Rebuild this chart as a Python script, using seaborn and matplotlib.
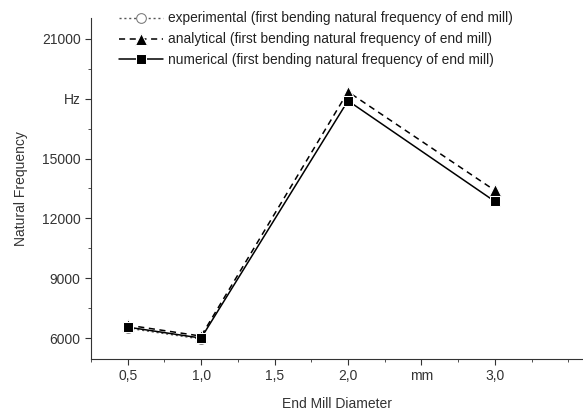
import numpy as np
import pandas as pd
import seaborn as sns
import matplotlib.pyplot as plt
from matplotlib.ticker import MultipleLocator

# values
diam_exp = [0.5, 1.0]
freq_exp = [6500, 5950]
diam = [0.5, 1.0, 2.0, 3.0]
freq_analytical = [6650, 6100, 18350, 13400]
freq_numerical = [6550, 6000, 17900, 12850]

x_ticks = [0.5, 1.0, 1.5, 2.0, 2.5, 3.0]
x_labels = ["0,5", "1,0", "1,5", "2,0", "mm", "3,0"]
y_ticks = [6000, 9000, 12000, 15000, 18000, 21000]
y_labels = ["6000", "9000", "12000", "15000", "Hz", "21000"]

sns.set_style("ticks")
plt.rcParams['font.family'] = ['Liberation Sans Narrow', 'Liberation Sans', 'DejaVu Sans']

fig = plt.figure(figsize=(5.83, 4.17), dpi=100)
ax = fig.add_axes([0.156, 0.139, 0.844, 0.818])

lab = " (first bending natural frequency of end mill)"
sns.lineplot(x=diam_exp, y=freq_exp, ax=ax, color="#555555", linestyle=(0, (1.5, 2)),
             marker="o", markersize=7, markerfacecolor="white", markeredgecolor="#777777",
             linewidth=1, label="experimental" + lab)
sns.lineplot(x=diam, y=freq_analytical, ax=ax, color="black", linestyle=(0, (4, 3)),
             marker="^", markersize=8, linewidth=1.1, label="analytical" + lab)
sns.lineplot(x=diam, y=freq_numerical, ax=ax, color="black", linestyle="-",
             marker="s", markersize=7, linewidth=1.1, label="numerical" + lab)

ax.set_xlim(0.25, 3.6)
ax.set_ylim(4950, 22050)
ax.set_xticks(x_ticks)
ax.set_xticklabels(x_labels)
ax.set_yticks(y_ticks)
ax.set_yticklabels(y_labels)
ax.xaxis.set_minor_locator(MultipleLocator(0.25))
ax.yaxis.set_minor_locator(MultipleLocator(1500))
ax.tick_params(which="both", direction="out", colors="#333333", labelsize=10)
ax.tick_params(which="major", length=4)
ax.tick_params(which="minor", length=2.5)
sns.despine(ax=ax)
for s in ["left", "bottom"]:
    ax.spines[s].set_color("#333333")

ax.set_xlabel("End Mill Diameter", fontsize=10, color="#333333", labelpad=10)
ax.set_ylabel("Natural Frequency", fontsize=10, color="#333333", labelpad=10)

leg = ax.legend(loc="upper left", bbox_to_anchor=(0.045, 1.035), frameon=False,
                fontsize=9.9, handlelength=3.2, handletextpad=0.4, labelspacing=0.5,
                borderaxespad=0)
for t in leg.get_texts():
    t.set_color("#222222")

fig.savefig("out.png", dpi=100)
